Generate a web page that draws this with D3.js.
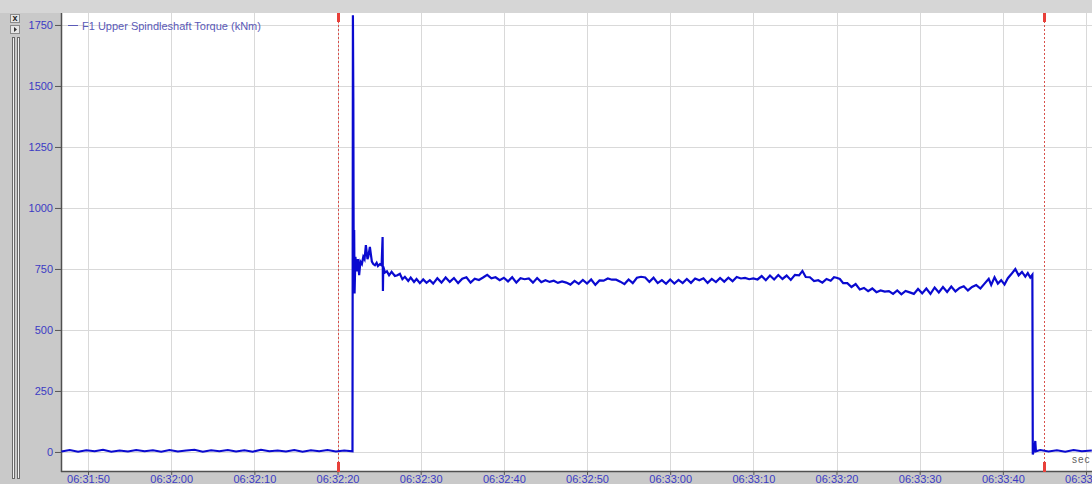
<!DOCTYPE html>
<html>
<head>
<meta charset="utf-8">
<script src="https://cdn.jsdelivr.net/npm/d3@7"></script>
<style>
  html, body { margin: 0; padding: 0; background: #c9c9c9; }
  svg { display: block; }
  text { font-family: "Liberation Sans", Arial, sans-serif; }
</style>
</head>
<body>
<svg id="chart" width="1092" height="484"></svg>
<script>
// Signal name and units
const seriesLabel = "F1 Upper Spindleshaft Torque (kNm)";

// Sample times, seconds after 06:31:00
const sampleTimes = [
  46.8, 47.8, 48.8, 49.8, 50.8, 51.8, 52.8, 53.8, 54.8, 55.8, 56.8, 57.8, 58.8, 59.8, 60.8, 61.8, 62.8, 63.8,
  64.8, 65.8, 66.8, 67.8, 68.8, 69.8, 70.8, 71.8, 72.8, 73.8, 74.8, 75.8, 76.8, 77.8, 78.8, 79.8, 80.8, 81.8,
  81.85, 81.9, 81.95, 82.0, 82.05, 82.15, 82.3, 82.45, 82.6, 82.75, 82.93, 83.1, 83.25, 83.41, 83.6, 83.7,
  83.89, 84.13, 84.3, 84.5, 84.7, 84.86, 85.1, 85.3, 85.42, 85.46, 85.5, 85.7, 85.94, 86.2, 86.5, 86.9,
  87.2, 87.5, 87.8, 88.1, 88.5, 88.8, 89.2, 89.5, 89.9, 90.3, 90.7, 91.1, 91.5,
  92.0, 92.5, 93.0, 93.5, 94.0, 94.5, 95.0, 95.5, 96.0, 96.5, 97.0, 97.5, 98.0, 98.5, 99.0, 99.5,
  100.0, 100.5, 101.0, 101.5, 102.0, 102.5, 103.0, 103.5, 104.0, 104.5, 105.0, 105.5, 106.0, 106.5, 107.0, 107.5,
  108.0, 108.5, 109.0, 109.5, 110.0, 110.5, 111.0, 111.5, 112.0, 112.5, 113.0, 113.5, 114.0, 114.5, 115.0, 115.5,
  116.0, 116.5, 117.0, 117.5, 118.0, 118.5, 119.0, 119.5, 120.0, 120.5, 121.0, 121.5, 122.0, 122.5, 123.0, 123.5,
  124.0, 124.5, 125.0, 125.5, 126.0, 126.5, 127.0, 127.5, 128.0, 128.5, 129.0, 129.5, 130.0, 130.5, 131.0, 131.5,
  132.0, 132.5, 133.0, 133.5, 134.0, 134.5, 135.0, 135.5, 135.9, 136.3, 136.8, 137.3, 137.8, 138.3, 138.8, 139.3,
  139.7, 140.0, 140.4, 140.8, 141.3, 141.8, 142.3, 142.8, 143.3, 143.8, 144.3, 144.8, 145.3, 145.8, 146.3, 146.8,
  147.3, 147.8, 148.3, 148.8, 149.3, 149.8, 150.3, 150.8, 151.3, 151.8, 152.3, 152.8, 153.3, 153.8, 154.3, 154.8,
  155.3, 155.8, 156.3, 156.8, 157.3, 157.8, 158.3, 158.6, 159.0, 159.4, 159.8, 160.2, 160.6, 161.0, 161.5, 161.9,
  162.3, 162.7, 163.0, 163.3, 163.55, 163.6, 163.75, 163.9, 163.98, 164.5, 165.5, 166.5, 167.5, 168.5, 169.5, 170.7
];

// Torque readings, kNm
const torqueValues = [
  2, 8, 1, 7, 3, 9, 1, 6, 2, 8, 3, 7, 1, 8, 2, 6, 9, 1,
  7, 3, 8, 2, 7, 1, 9, 3, 6, 2, 8, 1, 7, 3, 8, 2, 6, 3,
  1790, 1450, 700, 910, 650, 800, 740, 790, 725, 780, 770, 800, 790, 848, 790, 800,
  840, 780, 770, 765, 775, 762, 770, 765, 881, 660, 760, 735, 740, 724, 738, 721,
  724, 730, 708, 718, 701, 715, 697, 709, 692, 707, 693, 704, 690,
  712, 694, 715, 697, 713, 692, 710, 716, 694, 710, 705, 715, 726, 712, 716, 704,
  714, 699, 716, 694, 712, 708, 711, 694, 713, 696, 704, 697, 702, 693, 699, 694,
  686, 701, 689, 705, 690, 707, 685, 703, 702, 711, 706, 706, 698, 688, 707, 692,
  714, 718, 715, 697, 714, 692, 704, 689, 707, 690, 705, 692, 709, 693, 711, 704,
  712, 693, 709, 696, 713, 698, 714, 700, 717, 711, 713, 708, 711, 707, 721, 704,
  723, 707, 725, 709, 723, 705, 726, 724, 742, 717, 716, 700, 704, 694, 709, 702,
  716, 714, 709, 692, 692, 676, 688, 666, 672, 659, 670, 655, 662, 657, 659, 648,
  662, 646, 660, 654, 648, 668, 650, 670, 648, 674, 654, 676, 656, 678, 658, 672,
  679, 662, 676, 684, 670, 690, 710, 685, 716, 690, 704, 686, 712, 728, 750, 724,
  738, 719, 733, 715, 726, -10, 6, 45, 3, 8, 2, 7, 1, 8, 3, 6
];

// Axis ticks
const yTickValues = [0, 250, 500, 750, 1000, 1250, 1500, 1750];
const xTickSeconds = [50, 60, 70, 80, 90, 100, 110, 120, 130, 140, 150, 160, 170];
// Cursor positions, seconds after 06:31:00
const cursorSeconds = [80, 164.9];

const base = new Date(2000, 0, 1, 6, 31, 0).getTime();
const toDate = s => new Date(base + s * 1000);

const W = 1092, H = 484;
const plot = { left: 61, top: 13, right: 1092, bottom: 471 };

const svg = d3.select("#chart");

const x = d3.scaleTime()
  .domain([toDate(46.75), toDate(170.72)])
  .range([plot.left, plot.right]);
const y = d3.scaleLinear()
  .domain([-78, 1799])
  .range([plot.bottom, plot.top]);

// Window frame
svg.append("rect").attr("x", 0).attr("y", 0).attr("width", W).attr("height", H).attr("fill", "#c9c9c9");
svg.append("rect").attr("x", 0).attr("y", 0).attr("width", W).attr("height", plot.top).attr("fill", "#d6d6d6");

// Side controls
const ctl = svg.append("g");
[[10, 14], [10, 25]].forEach(([bx, by], i) => {
  ctl.append("rect").attr("x", bx + 0.5).attr("y", by + 0.5).attr("width", 9).attr("height", 8)
    .attr("fill", "#e6e6e6").attr("stroke", "#8a8a8a");
  if (i === 0) {
    ctl.append("text").attr("x", bx + 5).attr("y", by + 7).attr("text-anchor", "middle")
      .attr("font-size", 9).attr("font-weight", "bold").attr("fill", "#222").text("x");
  } else {
    ctl.append("path").attr("d", `M${bx + 4},${by + 2} L${bx + 7},${by + 4.5} L${bx + 4},${by + 7} Z`).attr("fill", "#333");
  }
});
[12, 17].forEach(gx => {
  ctl.append("rect").attr("x", gx + 0.5).attr("y", 37.5).attr("width", 2).attr("height", 441)
    .attr("fill", "#f2f2f2").attr("stroke", "#6a6a6a");
});

// Plot background
svg.append("rect").attr("x", plot.left).attr("y", plot.top)
  .attr("width", plot.right - plot.left).attr("height", plot.bottom - plot.top).attr("fill", "#ffffff");

// Grid
const grid = svg.append("g").attr("stroke", "#d9d9d9").attr("stroke-width", 1);
yTickValues.forEach(v => {
  const py = Math.round(y(v)) + 0.5;
  grid.append("line").attr("x1", plot.left).attr("x2", plot.right).attr("y1", py).attr("y2", py);
});
xTickSeconds.forEach(s => {
  const px = Math.round(x(toDate(s))) + 0.5;
  grid.append("line").attr("x1", px).attr("x2", px).attr("y1", plot.top).attr("y2", plot.bottom);
});

// Axes
const yAxis = d3.axisLeft(y).tickValues(yTickValues).tickSize(6).tickPadding(2).tickFormat(d3.format("d"));
const gy = svg.append("g").attr("transform", `translate(${plot.left},0)`).call(yAxis);
gy.select(".domain").remove();
gy.selectAll(".tick line").attr("stroke", "#555");
gy.selectAll(".tick text").attr("fill", "#3b3bc4").attr("font-size", 11)
  .attr("font-family", "Liberation Sans, Arial, sans-serif");

const xAxis = d3.axisBottom(x).tickValues(xTickSeconds.map(toDate)).tickSize(4).tickPadding(1)
  .tickFormat(d3.timeFormat("%H:%M:%S"));
const gx = svg.append("g").attr("transform", `translate(0,${plot.bottom})`).call(xAxis);
gx.select(".domain").remove();
gx.selectAll(".tick line").attr("stroke", "#555");
gx.selectAll(".tick text").attr("fill", "#3b3bc4").attr("font-size", 11)
  .attr("y", 12).attr("dy", 0)
  .attr("font-family", "Liberation Sans, Arial, sans-serif");

// Plot border lines
svg.append("line").attr("x1", plot.left + 0.5).attr("x2", plot.left + 0.5).attr("y1", plot.top).attr("y2", plot.bottom + 1)
  .attr("stroke", "#505050").attr("stroke-width", 1.5);
svg.append("line").attr("x1", plot.left).attr("x2", plot.right).attr("y1", plot.bottom + 0.5).attr("y2", plot.bottom + 0.5)
  .attr("stroke", "#505050").attr("stroke-width", 1.5);

// Legend
svg.append("line").attr("x1", 68).attr("x2", 78).attr("y1", 25.5).attr("y2", 25.5).attr("stroke", "#5a5ab8");
svg.append("text").attr("x", 82).attr("y", 29.5).attr("font-size", 11).attr("fill", "#5a5ab8").text(seriesLabel);

// Cursors
const cur = svg.append("g");
cursorSeconds.forEach(s => {
  const px = Math.round(x(toDate(s))) + 0.5;
  cur.append("line").attr("x1", px).attr("x2", px).attr("y1", plot.top).attr("y2", plot.bottom)
    .attr("stroke", "#d8504a").attr("stroke-width", 1).attr("stroke-dasharray", "2,2");
  cur.append("rect").attr("x", px - 1.5).attr("y", plot.top).attr("width", 3).attr("height", 9).attr("fill", "#e8403a");
  cur.append("rect").attr("x", px - 1.5).attr("y", plot.bottom - 9).attr("width", 3).attr("height", 10).attr("fill", "#e8403a");
});

// Torque trace
const samples = sampleTimes.map((t, i) => ({ t: toDate(t), v: torqueValues[i] }));
const line = d3.line().x(d => x(d.t)).y(d => y(d.v));
svg.append("path").datum(samples)
  .attr("d", line)
  .attr("fill", "none")
  .attr("stroke", "#0a0ad0")
  .attr("stroke-width", 2.2)
  .attr("stroke-linejoin", "miter");

// Unit caption
svg.append("text").attr("x", 1072).attr("y", 463).attr("font-size", 10).attr("fill", "#606060")
  .attr("letter-spacing", 1).text("sec");
</script>
</body>
</html>
